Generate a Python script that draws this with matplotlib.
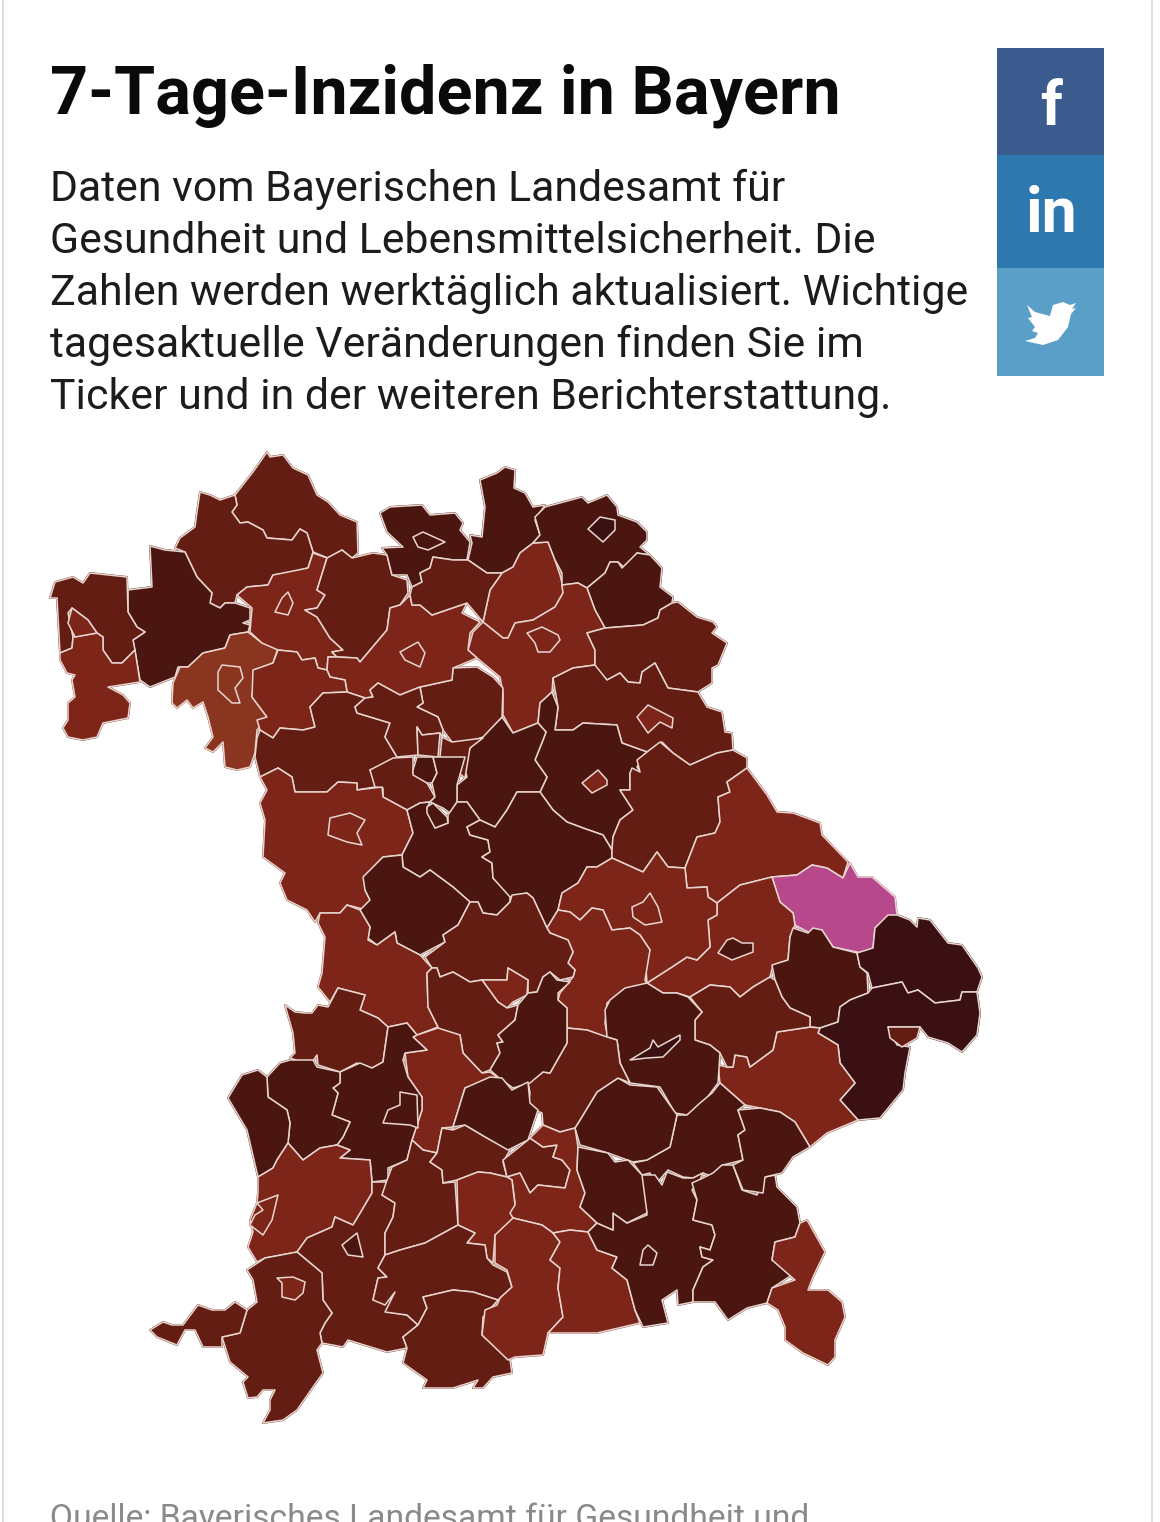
import matplotlib
matplotlib.use("Agg")
import matplotlib.pyplot as plt
from matplotlib.colors import ListedColormap, BoundaryNorm
from matplotlib.patches import Polygon, Rectangle

# 7-day incidence per district, estimated from the colour classes
inzidenz = {
    "Rhoen-Grabfeld": 400, "Bad Kissingen": 400, "Main-Spessart": 520, "LK Aschaffenburg": 400,
    "Miltenberg": 320, "SK Aschaffenburg": 320, "LK Wuerzburg": 240, "SK Wuerzburg": 240,
    "LK Schweinfurt": 320, "SK Schweinfurt": 320, "Hassberge": 400, "LK Coburg": 520, "SK Coburg": 520,
    "Kronach": 520, "Lichtenfels": 320, "LK Hof": 520, "SK Hof": 680, "Wunsiedel": 520,
    "LK Bayreuth": 320, "SK Bayreuth": 320, "Tirschenreuth": 400, "Neustadt WN": 400, "Weiden": 320,
    "Amberg-Sulzbach": 520, "Amberg": 320, "Nuernberger Land": 520, "Forchheim": 400,
    "LK Bamberg": 320, "SK Bamberg": 320, "Kulmbach": 400, "Kitzingen": 320, "Neustadt Aisch": 400,
    "Erlangen-Hoechstadt": 400, "Erlangen": 400, "Erlangen Ost": 400, "LK Fuerth": 400, "SK Fuerth": 520,
    "Nuernberg": 520, "Roth": 520, "Schwabach": 520, "LK Ansbach": 320, "SK Ansbach": 320,
    "Weissenburg": 520, "Neumarkt": 520, "Schwandorf": 400, "Cham": 320, "Regen": 1100,
    "LK Straubing": 320, "SK Straubing": 520, "LK Regensburg": 320, "SK Regensburg": 320, "Kelheim": 320,
    "Deggendorf": 520, "Freyung-Grafenau": 680, "LK Passau": 680, "SK Passau": 400, "Rottal-Inn": 320,
    "Dingolfing": 400, "LK Landshut": 520, "SK Landshut": 680, "Muehldorf": 520, "Erding": 520,
    "Freising": 400, "Eichstaett": 400, "Ingolstadt": 320, "Donau-Ries": 320, "Neuburg": 400,
    "Pfaffenhofen": 520, "Aichach": 320, "Dillingen": 400, "LK Augsburg": 520, "SK Augsburg": 520,
    "Guenzburg": 520, "Neu-Ulm": 520, "Unterallgaeu": 320, "Memmingen": 320, "Ostallgaeu": 400,
    "Kaufbeuren": 520, "Oberallgaeu": 400, "Kempten": 320, "Lindau": 400, "Landsberg": 400,
    "Fuerstenfeldbruck": 400, "Dachau": 520, "SK Muenchen": 400, "LK Muenchen": 320, "Starnberg": 320,
    "Weilheim": 400, "Garmisch": 400, "Bad Toelz": 320, "Miesbach": 320, "LK Rosenheim": 520,
    "SK Rosenheim": 520, "Ebersberg": 520, "Traunstein": 520, "Altoetting": 520, "Berchtesgaden": 320,
}

# district outlines
umrisse = {
    "Rhoen-Grabfeld": [(267,452),(270,457),(283,455),(293,468),(308,475),(317,495),(328,502),(340,515),(357,522),(358,553),(352,558),(342,550),(328,558),(313,552),(307,533),(300,529),(292,540),(267,538),(263,530),(248,522),(240,523),(232,512),(237,505),(235,495),(253,472)],
    "Bad Kissingen": [(200,492),(210,495),(220,500),(235,495),(237,505),(232,512),(240,523),(248,522),(263,530),(267,538),(292,540),(300,529),(307,533),(313,552),(308,568),(288,573),(273,575),(268,585),(247,587),(237,595),(235,603),(225,603),(220,608),(210,603),(212,593),(197,577),(185,552),(175,548),(180,538),(195,527),(197,512)],
    "Main-Spessart": [(150,546),(165,550),(185,552),(197,577),(212,593),(210,603),(220,608),(225,603),(235,603),(250,608),(250,620),(243,623),(250,625),(248,632),(230,635),(225,648),(203,653),(188,667),(178,667),(175,677),(150,687),(140,680),(133,640),(145,632),(137,627),(128,612),(128,590),(152,587)],
    "LK Aschaffenburg": [(50,598),(55,582),(73,577),(83,583),(90,573),(127,577),(128,612),(137,627),(145,632),(133,640),(135,650),(122,663),(112,663),(103,650),(103,637),(97,633),(88,620),(72,608),(68,613),(73,637),(72,648),(60,653),(57,598)],
    "Miltenberg": [(60,653),(72,648),(73,637),(97,633),(103,637),(103,650),(112,663),(122,663),(135,650),(140,682),(108,687),(123,695),(130,703),(128,718),(103,723),(97,737),(83,740),(68,737),(63,728),(68,720),(68,703),(75,697),(72,680),(75,675),(67,673),(60,660)],
    "SK Aschaffenburg": [(72,608),(88,620),(97,633),(75,637),(68,623)],
    "LK Wuerzburg": [(180,667),(188,667),(203,653),(225,648),(230,635),(248,632),(262,643),(278,648),(273,663),(255,670),(252,697),(267,717),(257,730),(255,753),(250,767),(237,770),(225,767),(223,742),(213,752),(205,748),(213,737),(208,717),(203,702),(193,708),(187,700),(177,708),(172,703),(173,683)],
    "SK Wuerzburg": [(222,665),(240,667),(243,678),(235,688),(240,703),(232,703),(218,690),(218,672)],
    "LK Schweinfurt": [(237,595),(247,587),(268,585),(273,575),(308,568),(313,553),(327,558),(317,590),(325,595),(317,608),(305,610),(317,617),(330,638),(343,650),(332,652),(337,657),(328,657),(327,670),(318,668),(315,658),(302,660),(297,652),(278,650),(262,643),(250,632),(252,608)],
    "SK Schweinfurt": [(288,592),(293,603),(288,615),(275,612),(282,598)],
    "Hassberge": [(327,558),(342,550),(352,558),(373,553),(387,555),(392,575),(407,580),(408,593),(400,605),(390,608),(387,630),(360,662),(357,658),(337,657),(332,652),(343,650),(330,638),(317,617),(305,610),(317,608),(325,595),(317,590)],
    "LK Coburg": [(380,513),(390,507),(422,505),(430,515),(455,513),(463,523),(460,530),(470,542),(467,560),(453,560),(433,557),(430,568),(420,573),(422,582),(412,587),(407,575),(392,575),(387,555),(382,548),(403,547),(387,532)],
    "SK Coburg": [(413,537),(423,532),(445,542),(428,550),(418,547)],
    "Kronach": [(480,480),(497,473),(505,467),(515,470),(514,488),(525,493),(533,507),(545,505),(535,520),(540,535),(533,543),(520,553),(513,567),(502,573),(487,573),(468,560),(472,543),(470,535),(482,537),(485,507)],
    "Lichtenfels": [(533,543),(548,542),(555,560),(560,575),(562,583),(563,593),(555,607),(533,620),(515,623),(508,638),(503,638),(483,622),(490,590),(502,573),(513,567),(520,553)],
    "LK Hof": [(535,517),(545,507),(582,497),(588,503),(607,495),(617,507),(618,515),(637,522),(647,532),(647,540),(640,547),(650,555),(637,553),(625,568),(618,562),(610,562),(605,573),(587,588),(578,583),(562,585),(562,573),(555,560),(548,542),(533,543),(540,535)],
    "SK Hof": [(600,517),(615,520),(615,530),(603,542),(588,529)],
    "Wunsiedel": [(587,588),(605,573),(610,562),(618,562),(622,568),(637,553),(650,555),(662,568),(660,587),(673,597),(672,603),(660,610),(658,618),(643,625),(605,628),(595,610)],
    "LK Bayreuth": [(562,585),(578,583),(587,588),(595,610),(605,628),(587,633),(595,650),(595,665),(573,668),(553,678),(552,692),(540,703),(538,723),(513,733),(503,715),(503,693),(500,677),(477,658),(468,650),(473,632),(483,622),(503,638),(508,638),(515,623),(533,620),(555,607),(563,593)],
    "SK Bayreuth": [(527,633),(542,627),(558,635),(560,640),(550,652),(538,652),(535,643)],
    "Tirschenreuth": [(587,633),(605,628),(643,625),(658,618),(660,610),(672,603),(678,602),(697,617),(713,622),(717,627),(712,633),(727,643),(718,665),(712,668),(712,683),(698,692),(668,688),(655,663),(642,672),(640,683),(628,682),(620,673),(607,680),(595,668),(595,650)],
    "Neustadt WN": [(553,678),(573,668),(595,665),(607,680),(620,673),(628,682),(640,683),(642,672),(655,663),(668,688),(698,692),(707,707),(722,712),(725,732),(732,733),(733,750),(717,753),(690,765),(673,753),(662,742),(647,752),(622,743),(617,725),(583,723),(573,730),(555,730),(558,707)],
    "Weiden": [(648,705),(673,718),(672,728),(660,722),(648,733),(637,717)],
    "Amberg-Sulzbach": [(540,703),(552,692),(558,707),(555,730),(573,730),(583,723),(617,725),(622,743),(647,752),(637,767),(640,772),(630,773),(630,790),(620,790),(633,810),(620,820),(613,837),(612,850),(603,835),(583,828),(567,822),(553,810),(540,792),(547,777),(535,760),(543,740),(546,732),(538,723)],
    "Amberg": [(582,783),(598,770),(607,780),(607,785),(592,793)],
    "Nuernberger Land": [(502,717),(513,733),(538,723),(546,732),(543,740),(535,760),(547,777),(540,792),(517,792),(507,810),(495,827),(480,820),(467,802),(457,802),(457,785),(467,777),(463,765),(470,748)],
    "Forchheim": [(420,687),(452,680),(453,668),(477,667),(493,677),(503,688),(502,717),(483,737),(470,742),(452,742),(443,730),(438,717),(417,707),(423,703)],
    "LK Bamberg": [(327,670),(328,657),(337,657),(357,658),(360,662),(387,630),(390,608),(400,605),(410,595),(412,605),(420,605),(432,615),(467,603),(462,613),(480,622),(470,633),(468,650),(477,658),(453,668),(452,680),(420,687),(400,695),(378,683),(370,690),(373,697),(365,698),(347,692),(345,680),(330,677)],
    "SK Bamberg": [(400,652),(418,642),(425,653),(420,667),(405,660)],
    "Kulmbach": [(412,587),(422,582),(420,573),(430,568),(433,557),(453,560),(468,560),(487,573),(502,573),(490,590),(483,622),(467,603),(432,615),(420,605),(412,605),(410,595)],
    "Kitzingen": [(253,670),(273,663),(278,650),(297,652),(302,660),(315,658),(318,668),(327,670),(330,677),(345,680),(347,692),(323,693),(310,707),(315,727),(303,730),(280,728),(273,738),(260,730),(257,720),(267,717),(252,697)],
    "Neustadt Aisch": [(260,730),(273,738),(280,728),(303,730),(315,727),(310,707),(323,693),(347,692),(365,698),(355,707),(357,713),(390,723),(385,737),(397,757),(393,760),(370,770),(373,777),(375,787),(357,790),(357,783),(338,782),(327,792),(295,792),(292,777),(278,768),(260,777),(255,757),(257,738)],
    "Erlangen-Hoechstadt": [(355,707),(365,698),(373,697),(370,690),(378,683),(400,695),(420,687),(423,703),(417,707),(438,717),(443,730),(442,737),(440,733),(422,735),(417,727),(418,755),(397,757),(385,737),(390,723),(357,713)],
    "Erlangen": [(417,727),(422,735),(440,733),(438,757),(418,755)],
    "Erlangen Ost": [(442,737),(452,742),(483,738),(470,748),(465,778),(440,757)],
    "LK Fuerth": [(370,770),(393,758),(413,757),(413,773),(427,783),(435,797),(430,802),(420,803),(407,810),(383,797),(383,788),(375,787)],
    "SK Fuerth": [(413,770),(417,757),(433,757),(437,773),(432,783),(427,783),(413,775)],
    "Nuernberg": [(432,783),(437,773),(433,757),(465,757),(457,785),(457,802),(450,813),(443,808),(430,802),(435,797)],
    "LK Ansbach": [(260,777),(278,768),(292,777),(295,792),(327,792),(338,782),(357,783),(357,790),(382,787),(383,797),(407,810),(413,833),(402,855),(383,857),(365,877),(365,890),(370,900),(367,910),(347,905),(340,913),(320,913),(315,922),(307,910),(287,900),(280,883),(285,873),(263,857),(265,820),(260,803),(267,790)],
    "SK Ansbach": [(330,818),(350,813),(365,820),(357,833),(362,845),(347,842),(328,835)],
    "Roth": [(407,810),(420,803),(430,802),(427,808),(435,828),(448,823),(448,815),(457,802),(467,802),(480,820),(467,827),(470,835),(488,840),(490,852),(482,857),(492,863),(493,878),(510,895),(510,902),(497,915),(483,913),(478,902),(470,902),(453,887),(430,870),(420,877),(403,867),(402,855),(413,833)],
    "Schwabach": [(427,807),(433,803),(447,817),(448,823),(435,828),(427,813)],
    "Weissenburg": [(363,877),(383,857),(402,855),(403,867),(420,877),(430,870),(453,887),(470,902),(458,925),(443,935),(445,942),(420,955),(397,943),(395,932),(377,945),(368,938),(370,927),(360,910),(370,900),(365,890)],
    "Neumarkt": [(467,827),(480,820),(495,827),(507,810),(517,792),(540,792),(553,810),(567,822),(583,828),(603,835),(612,850),(612,858),(597,867),(587,867),(578,883),(562,893),(558,910),(547,928),(533,898),(527,893),(510,897),(493,878),(492,863),(482,857),(490,852),(488,840),(470,835)],
    "Schwandorf": [(632,768),(640,772),(637,760),(647,752),(660,742),(673,753),(690,765),(717,753),(733,750),(747,758),(747,768),(727,782),(730,792),(718,797),(720,822),(715,833),(697,837),(685,868),(668,867),(657,852),(643,872),(612,858),(612,850),(613,837),(620,820),(633,810),(620,790),(630,790),(630,773)],
    "Cham": [(727,782),(747,768),(767,795),(777,812),(793,813),(820,823),(822,835),(848,862),(843,878),(827,868),(812,865),(797,875),(772,877),(740,885),(717,903),(708,897),(707,887),(687,888),(685,868),(697,837),(715,833),(720,822),(718,797),(730,792)],
    "Regen": [(772,877),(797,875),(812,865),(827,868),(843,878),(850,863),(858,877),(872,877),(895,897),(897,915),(888,917),(875,928),(873,948),(862,953),(833,947),(822,930),(810,933),(795,925),(793,913),(780,902)],
    "LK Straubing": [(717,903),(740,885),(772,877),(780,902),(793,913),(795,925),(790,937),(788,960),(773,965),(770,977),(753,987),(740,997),(730,987),(710,985),(690,997),(677,993),(663,993),(647,983),(672,967),(687,957),(697,960),(710,947),(708,920),(717,915)],
    "SK Straubing": [(727,940),(733,938),(742,943),(753,943),(753,952),(732,960),(718,953)],
    "LK Regensburg": [(612,858),(643,872),(657,852),(668,867),(685,868),(687,888),(707,887),(708,897),(717,903),(717,915),(708,920),(710,947),(697,960),(687,957),(672,967),(647,983),(645,953),(650,950),(640,935),(630,928),(612,930),(603,910),(592,908),(580,920),(570,912),(558,910),(562,893),(578,883),(587,867),(597,867)],
    "SK Regensburg": [(632,907),(643,902),(650,893),(658,907),(662,922),(645,925),(633,917)],
    "Kelheim": [(547,928),(558,910),(570,912),(580,920),(592,908),(603,910),(612,930),(630,928),(640,935),(650,950),(645,980),(647,985),(623,990),(607,1003),(605,1023),(608,1038),(587,1030),(567,1028),(567,1008),(558,1000),(560,993),(573,977),(575,970),(568,963),(573,952),(568,940),(550,933)],
    "Deggendorf": [(793,928),(808,933),(813,928),(822,930),(833,947),(857,953),(860,967),(867,973),(868,993),(850,1000),(840,1007),(838,1022),(820,1028),(810,1027),(810,1017),(790,1008),(782,997),(775,980),(772,965),(788,960),(790,937)],
    "Freyung-Grafenau": [(875,928),(888,915),(897,915),(910,920),(917,927),(918,918),(930,920),(948,943),(962,945),(978,968),(982,977),(977,992),(962,992),(960,1000),(935,1003),(918,990),(908,993),(902,982),(872,988),(868,973),(860,967),(857,953),(873,948)],
    "LK Passau": [(872,988),(902,982),(908,993),(918,990),(935,1003),(960,1000),(962,992),(977,992),(980,1013),(977,1035),(962,1052),(948,1043),(928,1037),(920,1027),(888,1027),(897,1045),(910,1047),(905,1073),(903,1090),(880,1118),(858,1120),(840,1100),(855,1083),(840,1063),(838,1045),(818,1033),(820,1028),(838,1022),(840,1007),(850,1000),(868,993)],
    "SK Passau": [(888,1027),(920,1027),(917,1038),(902,1047),(890,1038)],
    "Rottal-Inn": [(777,1032),(810,1027),(820,1028),(818,1033),(838,1045),(840,1063),(855,1083),(840,1100),(858,1120),(827,1133),(810,1147),(795,1122),(780,1112),(760,1108),(745,1105),(720,1083),(718,1065),(727,1067),(733,1067),(735,1055),(747,1057),(750,1067),(773,1050)],
    "Dingolfing": [(690,997),(710,985),(730,987),(740,997),(753,987),(770,977),(775,980),(782,997),(790,1008),(810,1017),(810,1027),(777,1032),(773,1050),(750,1067),(747,1057),(735,1055),(733,1067),(727,1067),(720,1053),(710,1045),(695,1040),(695,1020),(702,1012)],
    "LK Landshut": [(605,1010),(610,1000),(625,988),(647,983),(663,993),(677,993),(688,997),(702,1012),(695,1020),(695,1040),(710,1045),(720,1053),(718,1083),(703,1103),(687,1115),(675,1113),(660,1087),(630,1083),(620,1063),(617,1040),(607,1037)],
    "SK Landshut": [(630,1060),(650,1048),(653,1040),(658,1047),(680,1035),(680,1040),(663,1057),(647,1058)],
    "Muehldorf": [(720,1083),(745,1105),(738,1110),(745,1130),(738,1135),(743,1160),(723,1165),(713,1177),(703,1173),(693,1178),(683,1177),(668,1170),(655,1185),(650,1173),(642,1175),(633,1163),(647,1160),(670,1147),(677,1115),(687,1115),(700,1103),(712,1093)],
    "Erding": [(580,1120),(597,1092),(618,1078),(630,1085),(657,1087),(677,1115),(670,1147),(647,1160),(633,1162),(608,1153),(580,1145),(575,1128)],
    "Freising": [(567,1028),(587,1030),(607,1037),(617,1040),(620,1063),(630,1083),(618,1078),(597,1092),(580,1120),(575,1128),(560,1132),(543,1125),(542,1113),(528,1107),(530,1093),(528,1082),(543,1072),(550,1073),(567,1043)],
    "Eichstaett": [(425,957),(445,942),(443,935),(458,925),(470,902),(478,902),(483,913),(497,915),(510,902),(512,895),(527,893),(533,898),(547,928),(550,933),(568,940),(573,952),(568,963),(575,970),(573,977),(560,980),(550,972),(543,977),(537,992),(528,993),(528,980),(508,968),(507,980),(482,980),(470,982),(453,972),(440,977),(437,968),(432,968)],
    "Ingolstadt": [(482,980),(507,980),(508,968),(528,980),(527,995),(513,1002),(507,1008),(498,1002)],
    "Donau-Ries": [(318,923),(320,913),(340,913),(347,905),(360,910),(370,927),(368,940),(377,945),(395,932),(397,943),(420,955),(432,968),(427,973),(428,1007),(438,1027),(417,1035),(407,1023),(388,1027),(378,1018),(360,1010),(365,995),(338,988),(330,1002),(318,987),(322,973),(325,937)],
    "Neuburg": [(427,973),(432,968),(437,968),(440,977),(453,972),(470,982),(482,980),(498,1002),(507,1008),(518,1005),(515,1020),(498,1035),(503,1042),(497,1043),(500,1053),(490,1070),(482,1073),(463,1053),(460,1035),(438,1030),(438,1027),(428,1007)],
    "Pfaffenhofen": [(518,1005),(528,993),(537,992),(543,977),(550,972),(557,980),(570,982),(558,993),(558,1000),(567,1008),(567,1028),(567,1043),(550,1073),(543,1072),(530,1083),(513,1088),(498,1077),(490,1070),(500,1053),(497,1043),(503,1042),(498,1035),(515,1020)],
    "Aichach": [(417,1035),(438,1028),(460,1035),(463,1053),(482,1073),(490,1072),(497,1077),(465,1088),(453,1127),(442,1128),(437,1153),(423,1150),(412,1140),(422,1110),(422,1097),(408,1077),(405,1053),(427,1050),(413,1037)],
    "Dillingen": [(293,1033),(285,1005),(295,1012),(305,1013),(312,1013),(318,1005),(328,1007),(338,988),(365,995),(360,1010),(378,1018),(388,1027),(383,1062),(372,1068),(357,1063),(340,1072),(318,1065),(317,1055),(310,1065),(290,1058),(295,1053)],
    "LK Augsburg": [(340,1072),(360,1063),(372,1068),(383,1062),(388,1027),(407,1023),(417,1035),(413,1037),(427,1050),(405,1053),(403,1060),(408,1077),(422,1097),(422,1110),(412,1140),(407,1160),(388,1168),(388,1180),(372,1182),(370,1160),(340,1158),(350,1150),(337,1145),(343,1137),(350,1122),(332,1115),(338,1093),(333,1088),(340,1083)],
    "SK Augsburg": [(417,1095),(400,1092),(400,1105),(388,1110),(383,1123),(410,1125),(418,1128)],
    "Guenzburg": [(267,1077),(280,1063),(290,1060),(313,1060),(317,1067),(340,1072),(340,1083),(333,1088),(338,1093),(332,1115),(350,1122),(343,1137),(337,1145),(320,1148),(303,1160),(288,1143),(290,1123),(287,1110),(268,1097)],
    "Neu-Ulm": [(228,1098),(242,1075),(258,1070),(267,1077),(268,1097),(287,1110),(290,1123),(288,1143),(277,1160),(273,1168),(258,1177),(247,1130)],
    "Unterallgaeu": [(258,1177),(273,1168),(277,1160),(288,1143),(303,1160),(320,1148),(337,1145),(350,1150),(340,1158),(370,1160),(372,1182),(372,1193),(362,1210),(353,1225),(335,1217),(332,1227),(307,1238),(297,1252),(265,1258),(257,1262),(248,1247),(253,1232),(250,1220),(257,1203),(258,1193)],
    "Memmingen": [(257,1203),(278,1195),(272,1220),(263,1235),(250,1225),(255,1215),(263,1210)],
    "Ostallgaeu": [(297,1252),(307,1238),(332,1227),(335,1217),(353,1225),(362,1210),(372,1193),(372,1182),(392,1182),(382,1195),(395,1203),(393,1217),(385,1233),(385,1255),(378,1268),(387,1277),(378,1278),(373,1300),(395,1292),(388,1312),(407,1315),(418,1325),(403,1337),(407,1348),(387,1352),(348,1340),(343,1347),(322,1343),(320,1333),(325,1323),(332,1313),(323,1300),(322,1273),(315,1267)],
    "Kaufbeuren": [(342,1245),(357,1233),(363,1257),(348,1255)],
    "Oberallgaeu": [(247,1270),(265,1258),(297,1252),(315,1267),(322,1273),(323,1300),(332,1313),(325,1323),(320,1333),(322,1343),(317,1350),(323,1373),(313,1387),(297,1410),(283,1420),(263,1423),(270,1410),(270,1400),(275,1390),(263,1390),(257,1397),(248,1398),(243,1382),(248,1377),(230,1362),(222,1337),(240,1333),(247,1310),(257,1302),(253,1280)],
    "Kempten": [(277,1278),(293,1277),(305,1282),(303,1293),(295,1300),(282,1297),(282,1283)],
    "Lindau": [(150,1330),(163,1322),(172,1325),(183,1325),(198,1305),(212,1310),(225,1310),(235,1302),(247,1310),(240,1333),(222,1337),(222,1347),(203,1347),(195,1330),(185,1330),(177,1345),(157,1337)],
    "Landsberg": [(387,1180),(392,1167),(407,1160),(412,1140),(423,1150),(437,1153),(430,1162),(442,1170),(443,1183),(455,1182),(458,1225),(425,1243),(400,1250),(385,1255),(385,1233),(393,1217),(395,1203),(382,1195)],
    "Fuerstenfeldbruck": [(437,1153),(442,1128),(453,1130),(465,1125),(487,1138),(510,1150),(503,1162),(507,1177),(490,1173),(478,1172),(457,1180),(443,1183),(442,1170),(430,1162)],
    "Dachau": [(453,1127),(465,1088),(490,1077),(502,1078),(512,1090),(528,1082),(530,1103),(538,1110),(528,1140),(508,1150),(487,1138),(465,1125)],
    "SK Muenchen": [(503,1160),(528,1140),(530,1138),(543,1147),(557,1145),(553,1157),(562,1160),(570,1170),(565,1188),(538,1185),(530,1193),(520,1173),(507,1177)],
    "LK Muenchen": [(543,1125),(560,1132),(575,1128),(578,1147),(577,1170),(585,1193),(580,1207),(597,1223),(588,1232),(570,1230),(553,1233),(542,1225),(513,1218),(508,1213),(515,1203),(512,1180),(507,1177),(520,1173),(530,1193),(538,1185),(565,1188),(570,1170),(562,1160),(553,1157),(557,1145),(543,1147),(530,1138)],
    "Starnberg": [(457,1180),(478,1172),(490,1173),(507,1177),(512,1180),(515,1205),(510,1213),(513,1218),(508,1233),(495,1235),(493,1263),(487,1258),(485,1245),(467,1243),(475,1233),(458,1225)],
    "Weilheim": [(385,1255),(400,1250),(425,1243),(458,1225),(475,1233),(467,1243),(485,1245),(487,1258),(493,1265),(507,1272),(512,1287),(498,1300),(473,1292),(453,1290),(423,1297),(427,1308),(418,1325),(407,1315),(385,1312),(395,1292),(385,1305),(373,1300),(378,1278),(387,1277),(378,1268)],
    "Garmisch": [(403,1337),(418,1325),(427,1308),(423,1297),(453,1290),(473,1292),(498,1300),(483,1317),(482,1335),(510,1360),(512,1373),(493,1377),(483,1388),(473,1388),(478,1380),(453,1388),(423,1388),(427,1380),(403,1363),(407,1348)],
    "Bad Toelz": [(495,1235),(513,1218),(542,1225),(553,1233),(560,1242),(550,1260),(560,1268),(558,1288),(563,1317),(548,1333),(543,1355),(515,1357),(508,1360),(482,1335),(485,1310),(497,1305),(500,1298),(512,1287),(507,1270),(495,1263)],
    "Miesbach": [(553,1233),(570,1230),(588,1232),(597,1250),(617,1257),(612,1268),(627,1280),(635,1310),(640,1323),(597,1333),(552,1333),(548,1333),(563,1317),(558,1288),(560,1268),(550,1260),(560,1242)],
    "LK Rosenheim": [(588,1232),(597,1223),(613,1230),(613,1213),(627,1223),(647,1215),(640,1175),(655,1175),(662,1185),(667,1172),(683,1178),(693,1178),(703,1173),(700,1180),(692,1190),(697,1200),(693,1220),(712,1225),(715,1235),(710,1250),(700,1247),(702,1257),(713,1260),(703,1267),(693,1290),(693,1302),(678,1305),(677,1290),(662,1300),(668,1323),(643,1327),(635,1310),(627,1280),(612,1268),(617,1257),(597,1250)],
    "SK Rosenheim": [(648,1245),(657,1253),(653,1265),(640,1265),(643,1250)],
    "Ebersberg": [(578,1147),(608,1153),(615,1162),(628,1160),(642,1175),(647,1213),(627,1223),(613,1213),(613,1230),(597,1223),(580,1207),(585,1193),(577,1170)],
    "Traunstein": [(692,1183),(703,1178),(713,1173),(722,1165),(733,1165),(742,1190),(757,1195),(765,1177),(775,1175),(777,1187),(797,1207),(800,1223),(795,1237),(775,1242),(772,1260),(795,1273),(772,1288),(767,1303),(747,1308),(728,1320),(715,1302),(693,1302),(693,1290),(703,1267),(713,1260),(702,1257),(700,1247),(710,1250),(715,1235),(712,1225),(693,1220),(697,1200)],
    "Altoetting": [(738,1110),(760,1108),(780,1112),(795,1122),(810,1147),(793,1157),(782,1173),(765,1177),(763,1193),(743,1190),(733,1165),(743,1160),(738,1135),(745,1130)],
    "Berchtesgaden": [(775,1242),(795,1237),(800,1223),(807,1220),(825,1252),(813,1277),(808,1290),(828,1290),(842,1302),(845,1317),(835,1340),(835,1357),(828,1365),(803,1353),(785,1340),(785,1327),(778,1310),(767,1303),(772,1288),(795,1280),(772,1260)],
}

klassen = [0, 280, 360, 460, 600, 900, 2000]
farben = ["#8A3520", "#7C2518", "#641D12", "#4C1610", "#3A1012", "#B8488C"]

titel = "7-Tage-Inzidenz in Bayern"
text_zeilen = [
    "Daten vom Bayerischen Landesamt für",
    "Gesundheit und Lebensmittelsicherheit. Die",
    "Zahlen werden werktäglich aktualisiert. Wichtige",
    "tagesaktuelle Veränderungen finden Sie im",
    "Ticker und in der weiteren Berichterstattung.",
]
quelle = "Quelle: Bayerisches Landesamt für Gesundheit und"

plt.rcParams["font.family"] = ["Roboto", "DejaVu Sans"]

fig = plt.figure(figsize=(11.6, 15.22), dpi=100)
ax = fig.add_axes([0, 0, 1, 1])
ax.set_xlim(0, 1160)
ax.set_ylim(1522, 0)
ax.axis("off")

# page frame
ax.axvline(2.5, color="#d9d9d9", lw=1.2)
ax.axvline(1152, color="#d9d9d9", lw=1.2)

ax.text(50, 113, titel, fontsize=47.9, fontweight="bold", color="#0a0a0a", va="baseline")
for i, zeile in enumerate(text_zeilen):
    ax.text(50, 201 + i * 52, zeile, fontsize=30.75, color="#1c1c1c", va="baseline")
ax.text(50, 1528, quelle, fontsize=24.2, color="#8a8a8a", va="baseline", clip_on=True)

# the map: a first pass closes the slivers between traced outlines, the second draws the borders
cmap = ListedColormap(farben)
norm = BoundaryNorm(klassen, cmap.N)
for name, umriss in umrisse.items():
    farbe = cmap(norm(inzidenz[name]))
    ax.add_patch(Polygon(umriss, closed=True, facecolor=farbe, edgecolor=farbe, lw=1.4, joinstyle="round"))
for name, umriss in umrisse.items():
    ax.add_patch(Polygon(umriss, closed=True, facecolor=cmap(norm(inzidenz[name])),
                         edgecolor="#e8d6d0", lw=1.1, joinstyle="round"))

# share buttons
ax.add_patch(Rectangle((997, 48), 107, 107, color="#3B5A8E", lw=0))
ax.add_patch(Rectangle((997, 155), 107, 113, color="#2E78B0", lw=0))
ax.add_patch(Rectangle((997, 268), 107, 108, color="#5A9FC8", lw=0))
ax.text(1051, 125, "f", fontsize=44, fontweight="bold", color="white", ha="center", va="baseline")
ax.text(1051, 232, "in", fontsize=45, fontweight="bold", color="white", ha="center", va="baseline")
vogel = [(1027,305),(1035,312),(1050,316),(1053,305),(1063,302),(1070,305),(1076,303),(1072,309),(1076,308),(1071,314),(1068,327),(1058,340),(1043,345),(1025,341),(1035,338),(1038,333),(1032,331),(1035,327),(1028,318),(1032,317)]
ax.add_patch(Polygon(vogel, closed=True, color="white", lw=0))

fig.savefig("out.png", dpi=100, facecolor="white")
